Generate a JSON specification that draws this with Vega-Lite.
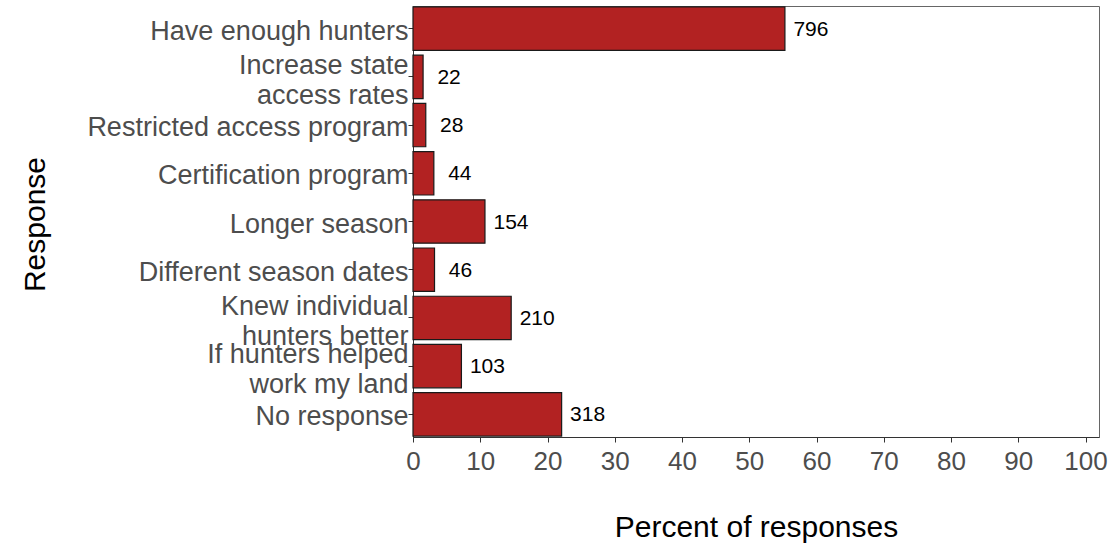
{
  "$schema": "https://vega.github.io/schema/vega-lite/v6.json",
  "autosize": "none",
  "width": 686,
  "height": 431,
  "padding": {"left": 413, "top": 6, "right": 10, "bottom": 111},
  "background": "white",
  "config": {
    "font": "Liberation Sans",
    "view": {"stroke": "#666666", "strokeWidth": 1},
    "axis": {"grid": false, "domainColor": "#333333", "tickColor": "#333333", "tickSize": 5, "labelColor": "#4D4D4D", "titleColor": "#000000", "titleFontWeight": "normal", "titleFont": "Liberation Sans", "labelFont": "Liberation Sans"}
  },
  "data": {
    "values": [
      {"response": "Have enough hunters", "percent": 55.3, "count": 796},
      {"response": "Increase state\naccess rates", "percent": 1.5, "count": 22},
      {"response": "Restricted access program", "percent": 1.9, "count": 28},
      {"response": "Certification program", "percent": 3.1, "count": 44},
      {"response": "Longer season", "percent": 10.7, "count": 154},
      {"response": "Different season dates", "percent": 3.2, "count": 46},
      {"response": "Knew individual\nhunters better", "percent": 14.6, "count": 210},
      {"response": "If hunters helped\nwork my land", "percent": 7.2, "count": 103},
      {"response": "No response", "percent": 22.1, "count": 318}
    ]
  },
  "encoding": {
    "y": {
      "field": "response", "type": "nominal", "sort": null,
      "scale": {"paddingInner": 0.1, "paddingOuter": 0.02},
      "axis": {
        "title": "Response",
        "labelExpr": "split(datum.label, '\\n')",
        "labelFontSize": 27, "labelLineHeight": 30, "labelPadding": 0, "labelLimit": 500,
        "labelOffset": {"condition": {"test": "indexof(datum.value, '\\n') >= 0", "value": -11}, "value": 3},
        "titleFontSize": 30, "titleX": -378, "titleY": 218, "titleBaseline": "middle", "titleAngle": -90
      }
    },
    "x": {
      "field": "percent", "type": "quantitative",
      "scale": {"domain": [0, 102], "nice": false, "zero": true},
      "axis": {"title": "Percent of responses", "values": [0, 10, 20, 30, 40, 50, 60, 70, 80, 90, 100], "labelFontSize": 26, "labelPadding": 6, "titleFontSize": 30, "titlePadding": 38, "labelFlush": false}
    }
  },
  "layer": [
    {"mark": {"type": "bar", "fill": "#B22222", "stroke": "#1a1a1a", "strokeWidth": 1.2}},
    {"mark": {"type": "text", "align": "center", "baseline": "middle", "dx": 26, "dy": 1, "fontSize": 21, "color": "#000000"},
     "encoding": {"text": {"field": "count", "type": "quantitative"}}}
  ]
}
